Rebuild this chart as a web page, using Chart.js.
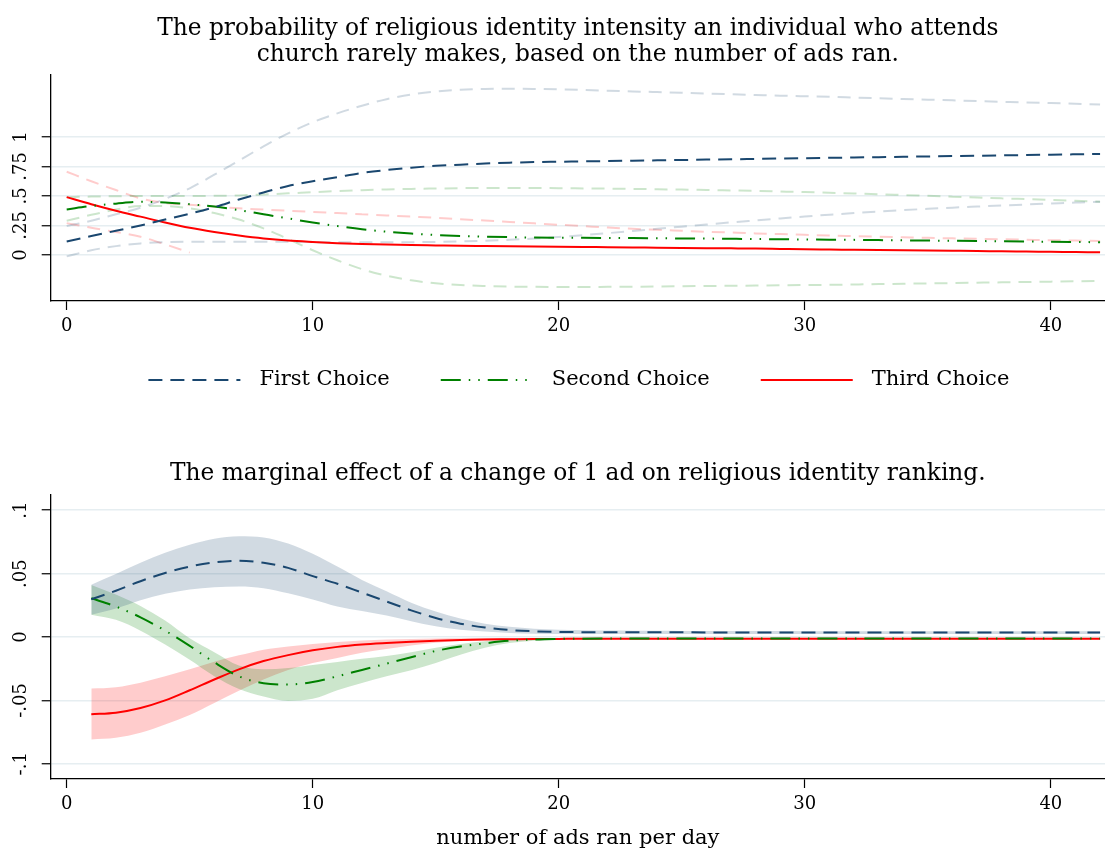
<!DOCTYPE html>
<html>
<head>
<meta charset="utf-8">
<script src="https://cdn.jsdelivr.net/npm/chart.js@4.4.1/dist/chart.umd.min.js"></script>
<style>
  body { margin: 0; background: #fff; }
  #top { position: absolute; left: 0; top: 0; width: 1105px; height: 420px; }
  #bottom { position: absolute; left: 0; top: 420px; width: 1105px; height: 429px; }
</style>
</head>
<body>
<div id="top"><canvas id="probChart"></canvas></div>
<div id="bottom"><canvas id="meChart"></canvas></div>
<script>
// ads per day (x)
const adsTop = [0, 1, 2, 3, 4, 5, 6, 7, 8, 9, 10, 11, 12, 13, 14, 15, 16, 17, 18, 19, 20,
    21, 22, 23, 24, 25, 26, 27, 28, 29, 30, 31, 32, 33, 34, 35, 36, 37, 38, 39, 40, 41, 42];
const adsMe = [1, 2, 3, 4, 5, 6, 7, 8, 9, 10, 11, 12, 13, 14, 15, 16, 17, 18, 19, 20,
    21, 22, 23, 24, 25, 26, 27, 28, 29, 30, 31, 32, 33, 34, 35, 36, 37, 38, 39, 40, 41, 42];

const xTicks = [0, 10, 20, 30, 40];
const topYTicks = [0, 0.25, 0.5, 0.75, 1];
const topYTickLabels = ["0", ".25", ".5", ".75", "1"];
const meYTicks = [-0.1, -0.05, 0, 0.05, 0.1];
const meYTickLabels = ["-.1", "-.05", "0", ".05", ".1"];

const choiceNames = ["First Choice", "Second Choice", "Third Choice"];
const topTitle = ["The probability of religious identity intensity an individual who attends",
    "church rarely makes, based on the number of ads ran."];
const meTitle = "The marginal effect of a change of 1 ad on religious identity ranking.";
const xTitle = "number of ads ran per day";

// predicted probabilities with CI bounds
const firstTop = [0.115, 0.16, 0.205, 0.25, 0.30, 0.35, 0.405, 0.47, 0.53, 0.585, 0.625, 0.66, 0.695, 0.72, 0.74,
    0.755, 0.765, 0.775, 0.782, 0.787, 0.79, 0.793, 0.796, 0.799, 0.802, 0.805, 0.808, 0.811, 0.814, 0.817,
    0.82, 0.823, 0.826, 0.829, 0.832, 0.835, 0.838, 0.841, 0.844, 0.847, 0.85, 0.853, 0.856];
const firstTopHi = [0.245, 0.29, 0.345, 0.40, 0.475, 0.565, 0.68, 0.80, 0.92, 1.03, 1.125, 1.20, 1.265, 1.32, 1.36,
    1.385, 1.40, 1.407, 1.409, 1.407, 1.403, 1.398, 1.392, 1.386, 1.38, 1.374, 1.368, 1.362, 1.356, 1.35,
    1.345, 1.34, 1.334, 1.328, 1.322, 1.316, 1.31, 1.304, 1.298, 1.292, 1.287, 1.281, 1.275];
const firstTopLo = [-0.012, 0.04, 0.075, 0.098, 0.108, 0.112, 0.113, 0.113, 0.112, 0.111, 0.109, 0.108, 0.107, 0.107, 0.108,
    0.111, 0.115, 0.121, 0.129, 0.139, 0.153, 0.168, 0.185, 0.203, 0.222, 0.24, 0.258, 0.276, 0.293, 0.31,
    0.326, 0.341, 0.355, 0.368, 0.38, 0.391, 0.401, 0.41, 0.419, 0.428, 0.436, 0.444, 0.452];

const secondTop = [0.386, 0.415, 0.435, 0.45, 0.445, 0.43, 0.41, 0.38, 0.345, 0.31, 0.275, 0.245, 0.218, 0.197, 0.181,
    0.169, 0.161, 0.155, 0.151, 0.148, 0.146, 0.145, 0.144, 0.143, 0.142, 0.14, 0.139, 0.137, 0.135, 0.133,
    0.131, 0.13, 0.128, 0.126, 0.124, 0.122, 0.12, 0.118, 0.116, 0.114, 0.112, 0.11, 0.108];
const secondTopHi = [0.49, 0.495, 0.498, 0.5, 0.5, 0.5, 0.501, 0.505, 0.513, 0.522, 0.532, 0.541, 0.549, 0.555, 0.56,
    0.563, 0.566, 0.568, 0.568, 0.567, 0.566, 0.564, 0.562, 0.56, 0.557, 0.554, 0.551, 0.547, 0.543, 0.538,
    0.533, 0.527, 0.521, 0.515, 0.508, 0.501, 0.494, 0.487, 0.48, 0.473, 0.466, 0.459, 0.452];
const secondTopLo = [0.29, 0.34, 0.385, 0.415, 0.415, 0.395, 0.355, 0.30, 0.225, 0.135, 0.04, -0.045, -0.12, -0.175, -0.215,
    -0.24, -0.255, -0.263, -0.268, -0.27, -0.271, -0.271, -0.27, -0.269, -0.267, -0.265, -0.263, -0.261, -0.259, -0.257,
    -0.255, -0.253, -0.25, -0.247, -0.244, -0.241, -0.238, -0.235, -0.232, -0.229, -0.226, -0.223, -0.22];

const thirdTop = [0.49, 0.43, 0.375, 0.325, 0.275, 0.23, 0.195, 0.165, 0.14, 0.122, 0.11, 0.10, 0.093, 0.088, 0.084,
    0.081, 0.078, 0.076, 0.074, 0.072, 0.07, 0.068, 0.066, 0.064, 0.062, 0.06, 0.058, 0.056, 0.054, 0.051,
    0.048, 0.046, 0.044, 0.042, 0.04, 0.038, 0.036, 0.034, 0.031, 0.029, 0.027, 0.025, 0.023];
const thirdTopHi = [0.705, 0.625, 0.55, 0.48, 0.44, 0.425, 0.41, 0.395, 0.385, 0.375, 0.365, 0.355, 0.345, 0.335, 0.325,
    0.315, 0.302, 0.292, 0.28, 0.268, 0.256, 0.244, 0.232, 0.222, 0.213, 0.205, 0.197, 0.19, 0.183, 0.177,
    0.171, 0.165, 0.16, 0.155, 0.15, 0.145, 0.141, 0.137, 0.133, 0.129, 0.125, 0.122, 0.119];
const thirdTopLo = [0.27, 0.23, 0.195, 0.155, 0.09, 0.02, null, null, null, null, null, null, null, null, null,
    null, null, null, null, null, null, null, null, null, null, null, null, null, null, null,
    null, null, null, null, null, null, null, null, null, null, null, null, null];

// marginal effects with CI bounds
const firstMe = [0.0297, 0.0365, 0.044, 0.0505, 0.0555, 0.0588, 0.0601, 0.0585, 0.0545, 0.048, 0.042, 0.035, 0.028, 0.021,
    0.015, 0.0105, 0.0075, 0.0055, 0.0045, 0.004, 0.0038, 0.0037, 0.0037, 0.0037, 0.0037, 0.0036, 0.0036, 0.0036,
    0.0036, 0.0036, 0.0036, 0.0036, 0.0036, 0.0036, 0.0036, 0.0036, 0.0036, 0.0036, 0.0036, 0.0036, 0.0036, 0.0036];
const firstMeHi = [0.0412, 0.0496, 0.0585, 0.0665, 0.0728, 0.0775, 0.0795, 0.0785, 0.0737, 0.0656, 0.0555, 0.045, 0.036, 0.027,
    0.02, 0.0145, 0.0105, 0.008, 0.0065, 0.0057, 0.0053, 0.0051, 0.005, 0.0049, 0.0048, 0.0048, 0.0047, 0.0047,
    0.0047, 0.0046, 0.0046, 0.0046, 0.0046, 0.0046, 0.0046, 0.0046, 0.0046, 0.0046, 0.0046, 0.0046, 0.0046, 0.0046];
const firstMeLo = [0.0176, 0.0225, 0.029, 0.034, 0.0375, 0.0393, 0.0399, 0.0385, 0.0345, 0.0295, 0.024, 0.0205, 0.017, 0.0125,
    0.0085, 0.0058, 0.0043, 0.0032, 0.0026, 0.0023, 0.0023, 0.0023, 0.0023, 0.0023, 0.0023, 0.0023, 0.0023, 0.0023,
    0.0023, 0.0023, 0.0023, 0.0023, 0.0023, 0.0023, 0.0023, 0.0023, 0.0023, 0.0023, 0.0023, 0.0023, 0.0023, 0.0023];

const secondMe = [0.0305, 0.024, 0.0155, 0.005, -0.007, -0.02, -0.031, -0.0365, -0.0375, -0.0355, -0.031, -0.026, -0.021, -0.016,
    -0.011, -0.0075, -0.005, -0.003, -0.002, -0.0015, -0.0013, -0.0012, -0.0012, -0.0012, -0.0012, -0.0012, -0.0012, -0.0012,
    -0.0012, -0.0012, -0.0012, -0.0012, -0.0012, -0.0012, -0.0012, -0.0012, -0.0012, -0.0012, -0.0012, -0.0012, -0.0012, -0.0012];
const secondMeHi = [0.041, 0.0335, 0.0245, 0.013, -0.001, -0.012, -0.0225, -0.0255, -0.0245, -0.022, -0.0197, -0.0172, -0.015, -0.012,
    -0.0085, -0.0055, -0.0034, -0.0019, -0.0011, -0.0008, -0.0006, -0.0006, -0.0006, -0.0006, -0.0006, -0.0006, -0.0006, -0.0006,
    -0.0006, -0.0006, -0.0006, -0.0006, -0.0006, -0.0006, -0.0006, -0.0006, -0.0006, -0.0006, -0.0006, -0.0006, -0.0006, -0.0006];
const secondMeLo = [0.0176, 0.0135, 0.005, -0.006, -0.018, -0.031, -0.041, -0.047, -0.0504, -0.0488, -0.042, -0.0362, -0.031, -0.0262,
    -0.0205, -0.014, -0.0085, -0.0048, -0.003, -0.0022, -0.0018, -0.0018, -0.0018, -0.0018, -0.0018, -0.0018, -0.0018, -0.0018,
    -0.0018, -0.0018, -0.0018, -0.0018, -0.0018, -0.0018, -0.0018, -0.0018, -0.0018, -0.0018, -0.0018, -0.0018, -0.0018, -0.0018];

const thirdMe = [-0.0609, -0.0597, -0.056, -0.05, -0.042, -0.0335, -0.0255, -0.019, -0.0143, -0.0105, -0.0078, -0.006, -0.0048, -0.0038,
    -0.003, -0.0024, -0.002, -0.0018, -0.0016, -0.0015, -0.0014, -0.0014, -0.0014, -0.0014, -0.0014, -0.0014, -0.0014, -0.0014,
    -0.0014, -0.0014, -0.0014, -0.0014, -0.0014, -0.0014, -0.0014, -0.0014, -0.0014, -0.0014, -0.0014, -0.0014, -0.0014, -0.0014];
const thirdMeHi = [-0.0407, -0.0396, -0.036, -0.031, -0.0255, -0.0195, -0.0145, -0.01, -0.0075, -0.0055, -0.004, -0.0028, -0.002, -0.0015,
    -0.0012, -0.001, -0.0009, -0.0008, -0.0008, -0.0008, -0.0008, -0.0008, -0.0008, -0.0008, -0.0008, -0.0008, -0.0008, -0.0008,
    -0.0008, -0.0008, -0.0008, -0.0008, -0.0008, -0.0008, -0.0008, -0.0008, -0.0008, -0.0008, -0.0008, -0.0008, -0.0008, -0.0008];
const thirdMeLo = [-0.0808, -0.0795, -0.0755, -0.069, -0.0615, -0.052, -0.0425, -0.0335, -0.026, -0.0205, -0.0165, -0.0125, -0.0095, -0.0068,
    -0.0045, -0.0032, -0.0024, -0.002, -0.0019, -0.0018, -0.0018, -0.0018, -0.0018, -0.0018, -0.0018, -0.0018, -0.0018, -0.0018,
    -0.0018, -0.0018, -0.0018, -0.0018, -0.0018, -0.0018, -0.0018, -0.0018, -0.0018, -0.0018, -0.0018, -0.0018, -0.0018, -0.0018];

// styles
const choiceColors = ["#1a476f", "#008000", "#ff0000"];
const lightColors = ["rgba(26,71,111,0.2)", "rgba(0,128,0,0.2)", "rgba(255,0,0,0.2)"];
const choiceDashes = [[14, 8], [20, 8, 1.5, 8, 1.5, 8], []];
const ciDash = [13, 8];
const FONT = "'DejaVu Serif', serif";

Chart.defaults.font.family = FONT;
Chart.defaults.color = "#000";

const pts = (xs, ys) => xs.map((x, i) => ({ x: x, y: ys[i] }));

function lineSet(label, xs, ys, color, dash, order) {
    return {
        label: label,
        data: pts(xs, ys),
        borderColor: color,
        backgroundColor: color,
        borderWidth: 2,
        borderDash: dash,
        pointRadius: 0,
        fill: false,
        cubicInterpolationMode: "monotone",
        order: order,
    };
}

function bandSet(label, xs, ys, color, fillTo) {
    return {
        label: label,
        data: pts(xs, ys),
        borderWidth: 0,
        borderColor: "rgba(0,0,0,0)",
        backgroundColor: color,
        pointRadius: 0,
        fill: fillTo,
        cubicInterpolationMode: "monotone",
        order: 2,
    };
}

// y tick labels are drawn turned on their side, like the original
const rotatedYLabels = {
    id: "rotatedYLabels",
    afterDraw(chart, args, opts) {
        const scale = chart.scales.y;
        const ctx = chart.ctx;
        ctx.save();
        ctx.font = "18px " + FONT;
        ctx.fillStyle = "#000";
        ctx.textAlign = "center";
        ctx.textBaseline = "middle";
        scale.ticks.forEach((t, i) => {
            ctx.save();
            ctx.translate(opts.x, scale.getPixelForValue(t.value));
            ctx.rotate(-Math.PI / 2);
            ctx.fillText(opts.labels[i], 0, 0);
            ctx.restore();
        });
        ctx.restore();
    },
};

// legend row under the top panel (line sample + name), centred on the plot area
const choiceLegend = {
    id: "choiceLegend",
    afterDraw(chart, args, opts) {
        const ctx = chart.ctx;
        const area = chart.chartArea;
        ctx.save();
        ctx.font = opts.fontSize + "px " + FONT;
        const itemW = opts.names.map((n) => opts.sample + opts.gap + ctx.measureText(n).width);
        const total = itemW.reduce((a, b) => a + b, 0) + opts.spacing * (opts.names.length - 1);
        let x = (area.left + area.right) / 2 - total / 2 + opts.shift;
        opts.names.forEach((name, i) => {
            ctx.beginPath();
            ctx.setLineDash(opts.dashes[i]);
            ctx.strokeStyle = opts.colors[i];
            ctx.lineWidth = 2;
            ctx.moveTo(x, opts.y);
            ctx.lineTo(x + opts.sample, opts.y);
            ctx.stroke();
            ctx.setLineDash([]);
            ctx.fillStyle = "#000";
            ctx.textAlign = "left";
            ctx.textBaseline = "middle";
            ctx.fillText(name, x + opts.sample + opts.gap, opts.y);
            x += itemW[i] + opts.spacing;
        });
        ctx.restore();
    },
};

function xAxis(height, title) {
    const axis = {
        type: "linear",
        min: -0.65,
        max: 42.2,
        afterBuildTicks: (s) => { s.ticks = xTicks.map((v) => ({ value: v })); },
        afterFit: (s) => { s.height = height; },
        grid: { drawOnChartArea: false, tickLength: 9, tickColor: "#000", tickWidth: 1.2 },
        border: { color: "#000", width: 1.3 },
        ticks: { color: "#000", font: { size: 18 }, padding: 6, maxRotation: 0, autoSkip: false },
    };
    if (title) {
        axis.title = { display: true, text: title, color: "#000", font: { size: 21, lineHeight: 1 }, padding: { top: 12, bottom: 0 } };
    }
    return axis;
}

function yAxis(min, max, ticks) {
    return {
        min: min,
        max: max,
        afterBuildTicks: (s) => { s.ticks = ticks.map((v) => ({ value: v })); },
        afterFit: (s) => { s.width = 50.7; },
        grid: { color: "#e6eef1", lineWidth: 1.5, tickLength: 9, tickColor: "#000", tickWidth: 1.2 },
        border: { color: "#000", width: 1.3 },
        ticks: { display: false },
    };
}

// top: predicted probabilities
new Chart(document.getElementById("probChart"), {
    type: "line",
    data: {
        datasets: [
            lineSet(choiceNames[0], adsTop, firstTop, choiceColors[0], choiceDashes[0], 0),
            lineSet(choiceNames[1], adsTop, secondTop, choiceColors[1], choiceDashes[1], 0),
            lineSet(choiceNames[2], adsTop, thirdTop, choiceColors[2], choiceDashes[2], 0),
            lineSet("First upper", adsTop, firstTopHi, lightColors[0], ciDash, 1),
            lineSet("First lower", adsTop, firstTopLo, lightColors[0], ciDash, 1),
            lineSet("Second upper", adsTop, secondTopHi, lightColors[1], ciDash, 1),
            lineSet("Second lower", adsTop, secondTopLo, lightColors[1], ciDash, 1),
            lineSet("Third upper", adsTop, thirdTopHi, lightColors[2], ciDash, 1),
            lineSet("Third lower", adsTop, thirdTopLo, lightColors[2], ciDash, 1),
        ],
    },
    options: {
        responsive: true,
        maintainAspectRatio: false,
        animation: false,
        layout: { padding: { left: 0, right: 0, top: 0, bottom: 79 } },
        scales: {
            x: xAxis(40, null),
            y: yAxis(-0.39, 1.525, topYTicks),
        },
        plugins: {
            title: {
                display: true,
                fullSize: false,
                text: topTitle,
                color: "#000",
                font: { size: 23.3, weight: "normal", lineHeight: "26px" },
                padding: { top: 16, bottom: 7 },
            },
            legend: { display: false },
            tooltip: { enabled: false },
            rotatedYLabels: { x: 21, labels: topYTickLabels },
            choiceLegend: {
                names: choiceNames, colors: choiceColors, dashes: choiceDashes,
                fontSize: 21, sample: 92, gap: 19, spacing: 51, y: 380, shift: 1,
            },
        },
    },
    plugins: [rotatedYLabels, choiceLegend],
});

// bottom: marginal effects
new Chart(document.getElementById("meChart"), {
    type: "line",
    data: {
        datasets: [
            lineSet(choiceNames[0], adsMe, firstMe, choiceColors[0], choiceDashes[0], 0),
            lineSet(choiceNames[1], adsMe, secondMe, choiceColors[1], choiceDashes[1], 0),
            lineSet(choiceNames[2], adsMe, thirdMe, choiceColors[2], choiceDashes[2], 0),
            bandSet("First upper", adsMe, firstMeHi, lightColors[0], false),
            bandSet("First lower", adsMe, firstMeLo, lightColors[0], "-1"),
            bandSet("Second upper", adsMe, secondMeHi, lightColors[1], false),
            bandSet("Second lower", adsMe, secondMeLo, lightColors[1], "-1"),
            bandSet("Third upper", adsMe, thirdMeHi, lightColors[2], false),
            bandSet("Third lower", adsMe, thirdMeLo, lightColors[2], "-1"),
        ],
    },
    options: {
        responsive: true,
        maintainAspectRatio: false,
        animation: false,
        layout: { padding: 0 },
        scales: {
            x: xAxis(70, xTitle),
            y: yAxis(-0.112, 0.112, meYTicks),
        },
        plugins: {
            title: {
                display: true,
                fullSize: false,
                text: meTitle,
                color: "#000",
                font: { size: 23.3, weight: "normal", lineHeight: 1.2 },
                padding: { top: 40, bottom: 7 },
            },
            legend: { display: false },
            tooltip: { enabled: false },
            rotatedYLabels: { x: 21, labels: meYTickLabels },
        },
    },
    plugins: [rotatedYLabels],
});
</script>
</body>
</html>
